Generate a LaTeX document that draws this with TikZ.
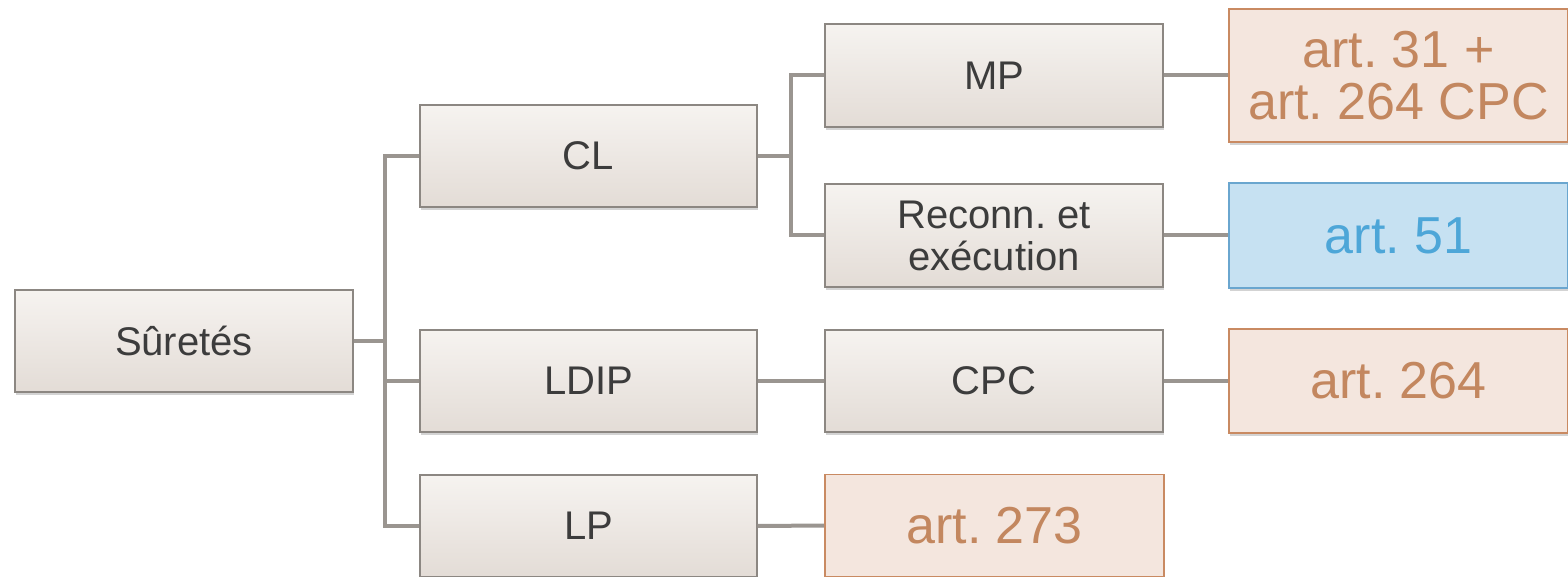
\documentclass[tikz,border=0pt]{standalone}
\usepackage{fontspec}
\setmainfont{Liberation Sans}
\usetikzlibrary{shadows}
\frenchspacing
\definecolor{boxtop}{HTML}{F6F3F0}
\definecolor{boxbot}{HTML}{E3DCD6}
\definecolor{boxline}{HTML}{8C8782}
\definecolor{conn}{HTML}{9A9590}
\definecolor{txt}{HTML}{3C3C3C}
\definecolor{orfill}{HTML}{F4E6DE}
\definecolor{orline}{HTML}{C98A62}
\definecolor{ortxt}{HTML}{C3875F}
\definecolor{blfill}{HTML}{C6E1F2}
\definecolor{blline}{HTML}{6AA6CF}
\definecolor{bltxt}{HTML}{4DA6D8}
\tikzset{
  base/.style={draw, line width=1.2pt, inner sep=0pt, align=center,
    drop shadow={shadow xshift=1pt, shadow yshift=-3pt, opacity=0.35}},
  graybox/.style={base, draw=boxline, top color=boxtop, bottom color=boxbot,
    text=txt, font=\fontsize{40}{42}\selectfont},
  orbox/.style={base, draw=orline, fill=orfill, line width=1.8pt,
    text=ortxt, font=\fontsize{52}{52}\selectfont},
  blbox/.style={base, draw=blline, fill=blfill, text=bltxt,
    font=\fontsize{52}{52}\selectfont},
  conline/.style={draw=conn, line width=4pt}
}
\begin{document}
\begin{tikzpicture}[x=1pt, y=-1pt]
\useasboundingbox (0,0) rectangle (1568,577);
\node[graybox, minimum width=338pt, minimum height=102pt] (sur) at (184,341) {Sûretés};
\node[graybox, minimum width=337pt, minimum height=102pt] (cl) at (588.5,156) {CL};
\node[graybox, minimum width=337pt, minimum height=102pt] (ldip) at (588.5,381) {LDIP};
\node[graybox, minimum width=337pt, minimum height=102pt] (lp) at (588.5,526) {LP};
\node[graybox, minimum width=338pt, minimum height=103pt] (mp) at (994,75.5) {MP};
\node[graybox, minimum width=338pt, minimum height=103pt] (rec) at (994,235.5) {Reconn. et\\exécution};
\node[graybox, minimum width=338pt, minimum height=102pt] (cpc) at (994,381) {CPC};
\node[orbox, minimum width=339pt, minimum height=102pt] (a273) at (994.5,525.5) {art. 273};
\node[orbox, minimum width=339pt, minimum height=133pt] (a31) at (1398.5,75.5) {art. 31 +\\art. 264 CPC};
\node[blbox, minimum width=339pt, minimum height=105pt] (a51) at (1398.5,235.5) {art. 51};
\node[orbox, minimum width=339pt, minimum height=104pt] (a264) at (1398.5,381) {art. 264};
\coordinate (j1) at (385,341);
\coordinate (j2) at (791,156);
\draw[conline] (sur.east) -- (j1);
\draw[conline] (j1) |- (cl.west);
\draw[conline] (j1) |- (ldip.west);
\draw[conline] (j1) |- (lp.west);
\draw[conline] (cl.east) -- (j2);
\draw[conline] (j2) |- (mp.west);
\draw[conline] (j2) |- (rec.west);
\draw[conline] (ldip.east) -- (cpc.west);
\draw[conline] (lp.east) -- (a273.west);
\draw[conline] (mp.east) -- (a31.west);
\draw[conline] (rec.east) -- (a51.west);
\draw[conline] (cpc.east) -- (a264.west);
\end{tikzpicture}
\end{document}
